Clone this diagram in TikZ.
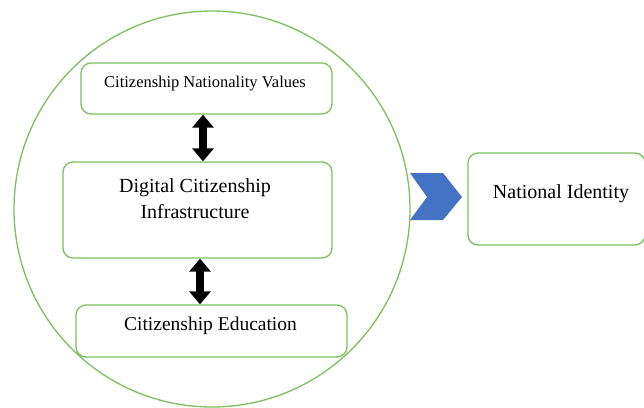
\documentclass[tikz,border=0pt]{standalone}
\usepackage{fontspec}
\setmainfont{Liberation Serif}
\usepackage{tikz}
\usepackage{xcolor}
\usetikzlibrary{arrows.meta}
\definecolor{leaf}{RGB}{125,190,95}
\definecolor{chev}{RGB}{68,114,196}

\begin{document}
\begin{tikzpicture}[x=1pt,y=-1pt]
      \useasboundingbox(0,0) rectangle (644,407);
      \tikzset{B/.style = {shape=rectangle, draw=leaf, line width=1.3pt, rounded corners=10pt, inner sep=0pt}}
      \tikzset{T/.style = {text=black, inner sep=0pt, anchor=base, font=\fontsize{20}{24}\selectfont}}
      \tikzset{E/.style = {draw, line width=8pt, {Triangle[width=21pt,length=13pt]}-{Triangle[width=21pt,length=13pt]}}}
      \node[circle, draw=leaf, line width=1.3pt, minimum size=396pt, inner sep=0pt](ring) at (212,209) {};
      \node[B, minimum width=251pt, minimum height=51pt](vals) at (206.5,88.5) {};
      \node[B, minimum width=269pt, minimum height=96pt](dig) at (197.5,210) {};
      \node[B, minimum width=271pt, minimum height=52pt](edu) at (211.5,331) {};
      \node[B, minimum width=177pt, minimum height=92pt](nat) at (556.5,199) {};
      \node[T, font=\fontsize{16.5}{20}\selectfont](valsT) at (205,87) {Citizenship Nationality Values};
      \node[T](digT1) at (195,192) {Digital Citizenship};
      \node[T](digT2) at (195,218) {Infrastructure};
      \node[T, font=\fontsize{19.5}{24}\selectfont](eduT) at (210.5,330) {Citizenship Education};
      \node[T](natT) at (561,198) {National Identity};
      \draw[E]([xshift=-3.5pt]vals.south) to ([xshift=5.5pt]dig.north);
      \draw[E]([xshift=2.5pt]dig.south) to ([xshift=-11.5pt]edu.north);
      \fill[chev](410,173) -- (443,173) -- (462,197) -- (443,220) -- (410,220) -- (427,197) -- cycle;
    \end{tikzpicture}
\end{document}
